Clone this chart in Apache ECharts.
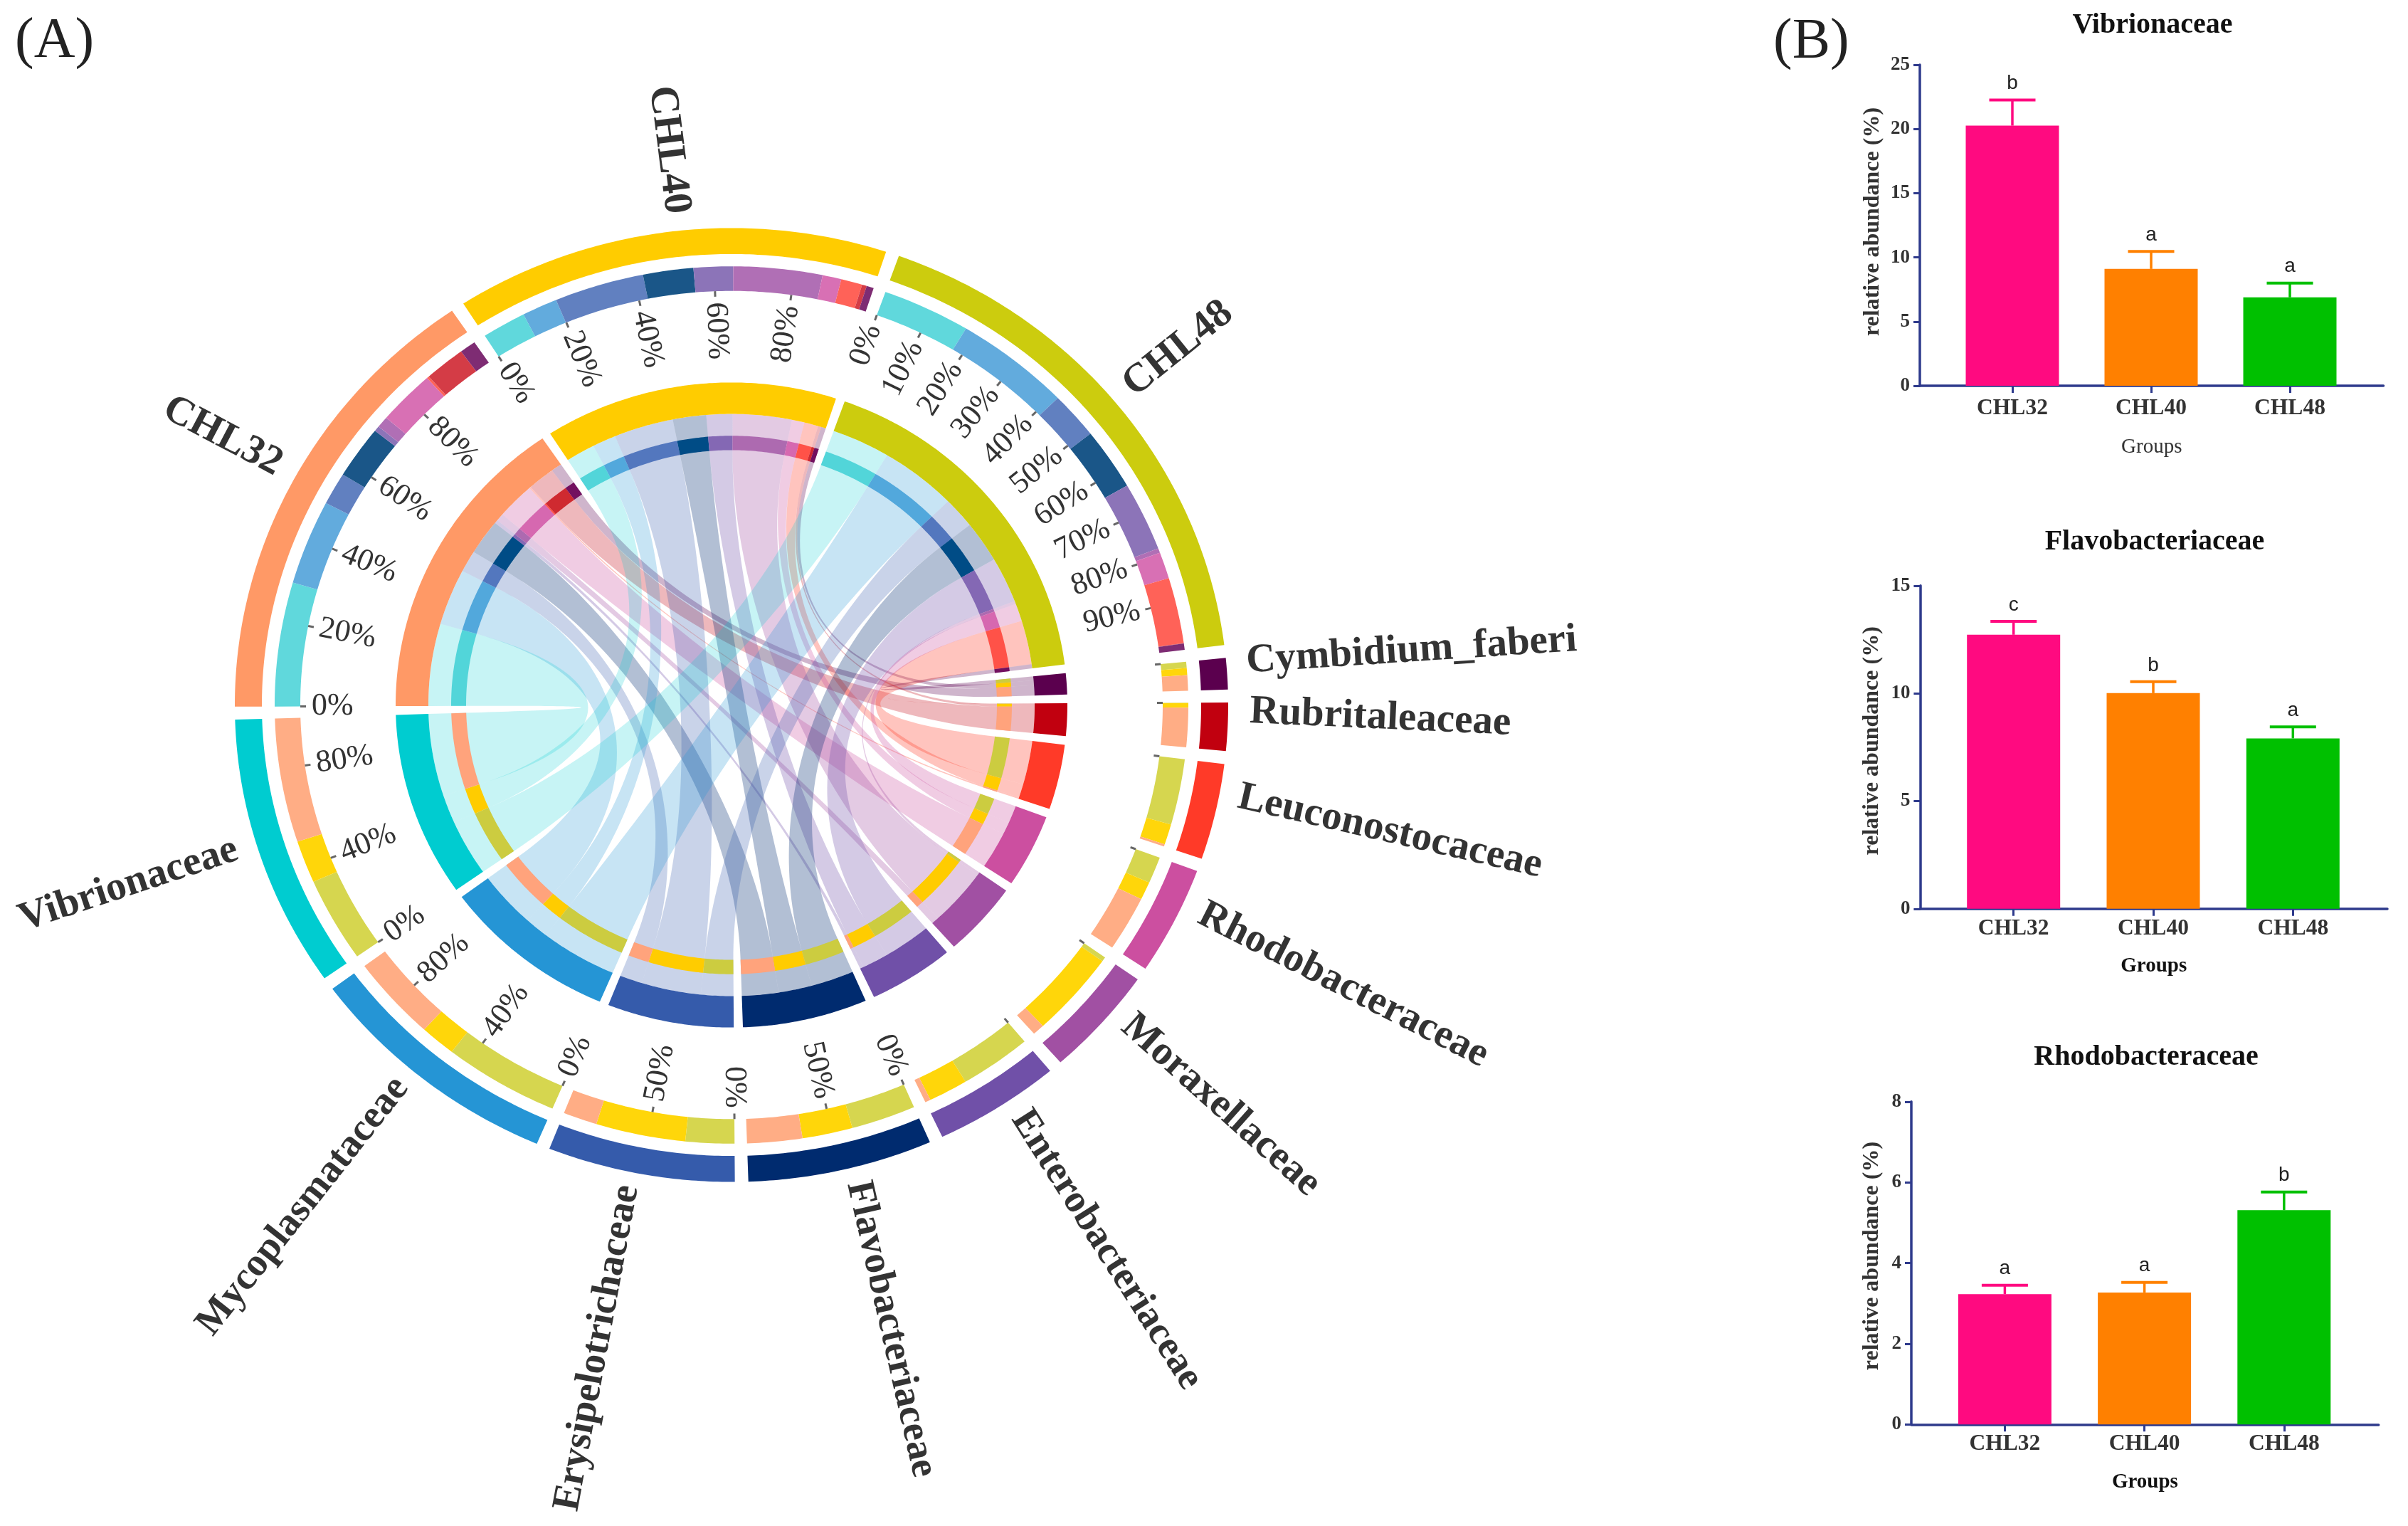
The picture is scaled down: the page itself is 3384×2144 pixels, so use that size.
<!DOCTYPE html>
<html><head><meta charset="utf-8">
<style>html,body{margin:0;padding:0;background:#fff}#c{width:3384px;height:2144px}</style>
<script src="https://cdn.jsdelivr.net/npm/echarts@6/dist/echarts.min.js"></script>
</head><body><div id="c"></div>
<script>
// ---------- chord data (relative abundance units read from the rings) ----------
const samples = ['CHL32','CHL40','CHL48'];
const taxa = ['Cymbidium_faberi','Rubritaleaceae','Leuconostocaceae','Rhodobacteraceae','Moraxellaceae',
  'Enterobacteriaceae','Flavobacteriaceae','Erysipelotrichaceae','Mycoplasmataceae','Vibrionaceae'];
const flowCHL32 = [2.05,5.2,0.3,7.3,1.5,0.7,7.0,4.3,11.2,16.4];
const flowCHL40 = [0.92,0.6,2.7,2.4,11.3,5.0,6.4,11.4,4.5,5.6];
const flowCHL48 = [0.83,0.05,8.7,3.5,0.6,9.1,8.2,6.2,14.7,11.2];
// tick percentages per node; labelled ones print text
const tickCHL32 = [0,20,40,60,80], tickCHL40 = [0,20,40,60,80], tickCHL48 = [0,10,20,30,40,50,60,70,80,90];
const tickTaxa = {Vibrionaceae:[0,40,80],Mycoplasmataceae:[0,40,80],Erysipelotrichaceae:[0,50],Flavobacteriaceae:[0,50]};
// ---------- bar panel data ----------
const groups = ['CHL32','CHL40','CHL48'];
const vibMean = [20.26,9.1,6.89], vibErr = [2.0,1.36,1.11], vibSig = ['b','a','a'];
const flaMean = [12.72,10.01,7.91], flaErr = [0.62,0.53,0.53], flaSig = ['c','b','a'];
const rhoMean = [3.23,3.27,5.31], rhoErr = [0.22,0.25,0.45], rhoSig = ['a','a','b'];
// ---------- colours ----------
const sampleColor = ['#FF9966','#FFCC00','#CCCC0E'];
const sampleRing = ['#FFAD85','#FFD60A','#D6D64F'];
const sampleThin = ['#FFA37C','#FFCC00','#CCCC40'];
const taxaColor = ['#5B004E','#C1000F','#FF3A28','#CC4FA0','#A150A3','#7050A8','#002B6F','#355BAB','#2595D5','#00CCD0'];
const taxaRing = ['#7E2C73','#D43C46','#FF6258','#D870B4','#B06FB5','#8C74B8','#1A5688','#6180C0','#62ABDD','#60D8DC'];
const taxaThin = ['#72105F','#CF2A30','#FF5248','#D668B0','#AD6AB0','#8468B4','#004C86','#5377BE','#52A8DC','#52D5D9'];
const ribbonAlpha = [0.29,0.28,0.3,0.29,0.3,0.3,0.3,0.265,0.257,0.22];
const barColor = ['#FF0A80','#FF8000','#00C000'];
const axisBlue = '#2E3A8C', textDark = '#333333';

// ---------- layout of the chord ----------
const flows = [flowCHL32, flowCHL40, flowCHL48];
const sampleTot = flows.map(f => f.reduce((a,b)=>a+b,0));
const taxaTot = taxa.map((_,i)=>flows[0][i]+flows[1][i]+flows[2][i]);
const GAP = (360 - 2*sampleTot.reduce((a,b)=>a+b,0)) / 13;
const START = 269.8;
let cur = START;
const sampleSpan = sampleTot.map(t => { const s=[cur,cur+t]; cur += t+GAP; return s; });
const taxaSpan = taxaTot.map(t => { const s=[cur,cur+t]; cur += t+GAP; return s; });
const R = {outer:[660,698], ring:[606,642], block:[426,472], thin:[373,394], ctrl:157, tick:[598,606], tickLabel:590, name:725};
// pixel nudges and font sizes of the node names, same order as samples then taxa
const nameNudge = [[6,-11],[15,0],[-8,-8],[0,-15],[4,-22],[6,-27],[13,-24],[15,-20],[15,-13],[17,-9],[-13,-9],[-15,-17],[-7,-17]];
const nameSize = [57,57,57,57,57,57,57,57,55,55,55,55,57];

const arcs = [], ribbons = [], texts = [], ticks = [];
function addArc(a0,a1,r,color){ arcs.push({value:[a0,a1,r[0],r[1]], itemStyle:{color}}); }
samples.forEach((s,i)=>{ addArc(sampleSpan[i][0],sampleSpan[i][1],R.outer,sampleColor[i]); addArc(sampleSpan[i][0],sampleSpan[i][1],R.block,sampleColor[i]); });
taxa.forEach((t,i)=>{ addArc(taxaSpan[i][0],taxaSpan[i][1],R.outer,taxaColor[i]); addArc(taxaSpan[i][0],taxaSpan[i][1],R.block,taxaColor[i]); });
// sample side: taxa run clockwise from Vibrionaceae to Cymbidium_faberi
const sampleSeg = {};
samples.forEach((s,i)=>{
  let p = sampleSpan[i][0];
  for (let t=taxa.length-1;t>=0;t--){
    const v = flows[i][t];
    sampleSeg[i+'_'+t] = [p,p+v];
    addArc(p,p+v,R.ring,taxaRing[t]); addArc(p,p+v,R.thin,taxaThin[t]);
    p += v;
  }
});
// taxon side: CHL48, CHL40, CHL32 clockwise
taxa.forEach((tx,t)=>{
  let p = taxaSpan[t][0];
  for (let i=2;i>=0;i--){
    const v = flows[i][t];
    const a = sampleSeg[i+'_'+t];
    const rgb = echarts.color.parse(taxaColor[t]);
    ribbons.push({value:[a[0],a[1],p,p+v], itemStyle:{color:`rgba(${rgb[0]},${rgb[1]},${rgb[2]},${ribbonAlpha[t]})`}});
    addArc(p,p+v,R.ring,sampleRing[i]); addArc(p,p+v,R.thin,sampleThin[i]);
    p += v;
  }
});
// ticks and labels
function addTicks(span,list,labelled){
  list.forEach(pc=>{
    const th = span[0]+(span[1]-span[0])*pc/100;
    ticks.push({value:[th]});
    if (labelled) texts.push({theta:th,r:R.tickLabel,text:pc+'%',size:44,weight:'normal',inward:true,nudge:[0,0]});
  });
}
addTicks(sampleSpan[0],tickCHL32,true); addTicks(sampleSpan[1],tickCHL40,true); addTicks(sampleSpan[2],tickCHL48,true);
taxa.forEach((t,i)=>{ addTicks(taxaSpan[i],tickTaxa[t]||[0],!!tickTaxa[t]); });
samples.forEach((s,i)=>texts.push({theta:(sampleSpan[i][0]+sampleSpan[i][1])/2,r:R.name,text:s,size:nameSize[i],weight:'bold',nudge:nameNudge[i]}));
taxa.forEach((s,i)=>texts.push({theta:(taxaSpan[i][0]+taxaSpan[i][1])/2,r:R.name,text:s,size:nameSize[i+3],weight:'bold',nudge:nameNudge[i+3]}));

const rad = d => d*Math.PI/180;
const pol = (th,r) => [r*Math.sin(rad(th)), r*Math.cos(rad(th))];
function arcPts(api,a0,a1,r,out){
  const n = Math.max(2,Math.ceil(Math.abs(a1-a0)/0.5));
  for(let k=0;k<=n;k++) out.push(api.coord(pol(a0+(a1-a0)*k/n,r)));
}
function bez(api,a,b,out){
  const P0=pol(a,R.thin[0]),P1=pol(a,R.ctrl),P2=pol(b,R.ctrl),P3=pol(b,R.thin[0]);
  for(let k=1;k<60;k++){const t=k/60,u=1-t;
    out.push(api.coord([u*u*u*P0[0]+3*u*u*t*P1[0]+3*u*t*t*P2[0]+t*t*t*P3[0],
                        u*u*u*P0[1]+3*u*u*t*P1[1]+3*u*t*t*P2[1]+t*t*t*P3[1]]));}
}
const renderArc = (p,api)=>{
  const a0=api.value(0),a1=api.value(1),r0=api.value(2),r1=api.value(3);
  const pts=[]; arcPts(api,a0,a1,r1,pts); arcPts(api,a1,a0,r0,pts);
  return {type:'polygon',shape:{points:pts},style:{fill:api.visual('color')}};
};
const renderRibbon = (p,api)=>{
  const a0=api.value(0),a1=api.value(1),b0=api.value(2),b1=api.value(3),top=R.block[0],low=R.thin[0];
  const pts=[]; arcPts(api,a0,a1,top,pts); pts.push(api.coord(pol(a1,low))); bez(api,a1,b0,pts);
  pts.push(api.coord(pol(b0,low))); arcPts(api,b0,b1,top,pts); pts.push(api.coord(pol(b1,low)));
  bez(api,b1,a0,pts); pts.push(api.coord(pol(a0,low)));
  return {type:'polygon',shape:{points:pts},style:{fill:api.visual('color')}};
};
const renderTick = (p,api)=>{
  const th=api.value(0),A=api.coord(pol(th,R.tick[0])),B=api.coord(pol(th,R.tick[1]));
  return {type:'line',shape:{x1:A[0],y1:A[1],x2:B[0],y2:B[1]},style:{stroke:'#666666',lineWidth:3}};
};
const renderText = (p,api)=>{
  const d=texts[p.dataIndex],th=d.theta,c=api.coord(pol(th,d.r));
  const right=(th%360+360)%360<180;
  const rot=right?rad(90-th):rad(90-th+180);
  let align;
  if(d.inward) align=right?'right':'left'; else align=right?'left':'right';
  return {type:'text',x:c[0]+d.nudge[0],y:c[1]+d.nudge[1],rotation:rot,style:{text:d.text,align,verticalAlign:'middle',
    fontFamily:'"Liberation Serif"',fontSize:d.size,fontWeight:d.weight,fill:textDark}};
};

// ---------- bar panels ----------
const panels = [
 {mean:vibMean,err:vibErr,sig:vibSig,title:'Vibrionaceae',max:25,step:5,L:2698,E:3349.5,T:91,B:542,c0:2828,s:195,tx:3020,ty:31,labM:16,nameW:'normal',gap:50,pad:10,nameG:72,tColor:'#111'},
 {mean:flaMean,err:flaErr,sig:flaSig,title:'Flavobacteriaceae',max:15,step:5,L:2698.4,E:3355,T:822.8,B:1276.8,c0:2829.7,s:196.3,tx:3023,ty:757,labM:12,nameW:'bold',gap:52,pad:18,nameG:66,tColor:'#111'},
 {mean:rhoMean,err:rhoErr,sig:rhoSig,title:'Rhodobacteraceae',max:8,step:2,L:2686,E:3342.7,T:1547.8,B:2001.3,c0:2817.4,s:196.2,tx:3011,ty:1481,labM:12,nameW:'bold',gap:39,pad:20,nameG:67,tColor:'#111'}
];
const W=3384,H=2144;
const grid=[],xAxis=[],yAxis=[],series=[],title=[];
const fontS='"Liberation Serif"';
panels.forEach((P,i)=>{
  grid.push({left:P.L,top:P.T,width:P.E-P.L,height:P.B-P.T,containLabel:false});
  xAxis.push({type:'value',gridIndex:i,min:(P.L-P.c0)/P.s,max:(P.E-P.c0)/P.s,splitLine:{show:false},
    name:'Groups',nameLocation:'middle',nameGap:P.nameG,
    nameTextStyle:{fontFamily:fontS,fontSize:29,fontWeight:P.nameW,color:i===0?textDark:'#111'},
    axisLine:{show:true,onZero:false,lineStyle:{color:axisBlue,width:3.5}},
    axisTick:{show:true,length:10,customValues:[0,1,2],lineStyle:{color:axisBlue,width:3}},
    axisLabel:{customValues:[0,1,2],margin:P.labM,formatter:v=>groups[Math.round(v)],
      fontFamily:fontS,fontSize:31.5,fontWeight:'bold',color:textDark}});
  yAxis.push({type:'value',gridIndex:i,min:0,max:P.max,interval:P.step,splitLine:{show:false},
    name:'relative abundance (%)',nameLocation:'middle',nameGap:P.gap,
    nameTextStyle:{fontFamily:fontS,fontSize:32,fontWeight:'bold',color:textDark,padding:[0,0,0,P.pad]},
    axisLine:{show:true,onZero:false,lineStyle:{color:axisBlue,width:3.5}},
    axisTick:{show:true,length:9,lineStyle:{color:axisBlue,width:3}},
    axisLabel:{margin:14,fontFamily:fontS,fontSize:27,fontWeight:'bold',color:textDark}});
  series.push({type:'bar',xAxisIndex:i,yAxisIndex:i,barWidth:131,animation:false,silent:true,
    data:P.mean.map((m,k)=>({value:[k,m],itemStyle:{color:barColor[k]}}))});
  series.push({type:'custom',xAxisIndex:i,yAxisIndex:i,animation:false,silent:true,clip:false,z:3,
    data:P.mean.map((m,k)=>[k,m,P.err[k]]),
    renderItem:(p,api)=>{
      const k=api.value(0),A=api.coord([k,api.value(1)]),B=api.coord([k,api.value(1)+api.value(2)]),col=barColor[k];
      return {type:'group',children:[
        {type:'line',shape:{x1:A[0],y1:A[1],x2:B[0],y2:B[1]},style:{stroke:col,lineWidth:3.5}},
        {type:'line',shape:{x1:B[0]-32.5,y1:B[1],x2:B[0]+32.5,y2:B[1]},style:{stroke:col,lineWidth:4}},
        {type:'text',x:B[0],y:B[1]-23,style:{text:P.sig[k],align:'center',verticalAlign:'middle',
          fontFamily:'"Liberation Sans"',fontSize:28,fill:'#222'}}
      ]};
    }});
  title.push({text:P.title,left:P.tx,top:P.ty,textAlign:'center',textVerticalAlign:'middle',
    textStyle:{fontFamily:fontS,fontSize:40,fontWeight:'bold',color:P.tColor}});
});
title.push({text:'(A)',left:16,top:54,textVerticalAlign:'middle',textStyle:{fontFamily:fontS,fontSize:80,fontWeight:'normal',color:'#222'}});
title.push({text:'(B)',left:2487,top:55,textVerticalAlign:'middle',textStyle:{fontFamily:fontS,fontSize:80,fontWeight:'normal',color:'#222'}});

// hidden scale for the squashed chord: data unit = px horizontally, 0.96 px vertically
const CX=1028,CY=990.5,SPAN=900,SY=0.96;
grid.push({left:CX-SPAN,top:CY-SPAN*SY,width:2*SPAN,height:2*SPAN*SY});
xAxis.push({type:'value',gridIndex:3,min:-SPAN,max:SPAN,show:false});
yAxis.push({type:'value',gridIndex:3,min:-SPAN,max:SPAN,show:false});
const chordSeries=(data,renderItem,z)=>({type:'custom',xAxisIndex:3,yAxisIndex:3,coordinateSystem:'cartesian2d',
  clip:false,silent:true,animation:false,z,data,renderItem});
series.push(chordSeries(ribbons,renderRibbon,1));
series.push(chordSeries(arcs,renderArc,2));
series.push(chordSeries(ticks,renderTick,3));
series.push(chordSeries(texts.map(t=>[t.theta,t.r]),renderText,4));

const chart=echarts.init(document.getElementById('c'),null,{renderer:'canvas',width:W,height:H});
chart.setOption({backgroundColor:'#ffffff',animation:false,title,grid,xAxis,yAxis,series,tooltip:{show:false}});
</script></body></html>
